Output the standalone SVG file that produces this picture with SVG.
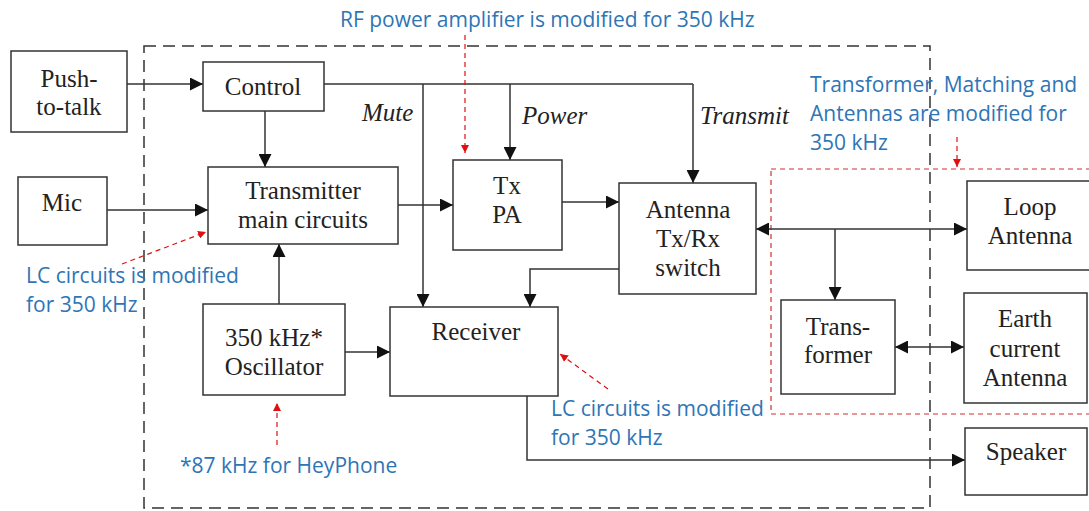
<svg xmlns="http://www.w3.org/2000/svg" width="1089" height="511" viewBox="0 0 1089 511">
<defs>
<marker id="ah" viewBox="0 0 10 10" refX="10" refY="5" markerWidth="13" markerHeight="13" markerUnits="userSpaceOnUse" orient="auto-start-reverse"><path d="M0,0 L10,5 L0,10 Z" fill="#111"/></marker>
<marker id="rh" viewBox="0 0 10 10" refX="10" refY="5" markerWidth="8" markerHeight="8" markerUnits="userSpaceOnUse" orient="auto"><path d="M0,0 L10,5 L0,10 Z" fill="#e01010"/></marker>
<style>
.box{fill:#fff;stroke:#333;stroke-width:1.5}
.t{font-family:"Liberation Serif",serif;font-size:25px;fill:#222;text-anchor:middle}
.it{font-family:"Liberation Serif",serif;font-size:25px;fill:#222;font-style:italic}
.ln{fill:none;stroke:#333;stroke-width:1.5}
.a{marker-end:url(#ah)}
.note{font-family:"Open Sans","Liberation Sans",sans-serif;font-size:21px;fill:#2e75b6}
.rd{fill:none;stroke:#e01010;stroke-width:1.2;stroke-dasharray:5 4;marker-end:url(#rh)}
</style>
</defs>
<rect width="1089" height="511" fill="#fff"/>
<rect x="144" y="46" width="786" height="462" fill="none" stroke="#333" stroke-width="1.5" stroke-dasharray="12 7"/>
<rect x="771" y="169" width="330" height="245" fill="none" stroke="#d03030" stroke-width="1.2" stroke-dasharray="5 4"/>

<g id="connectors">
<path class="ln a" d="M127,84 H203"/>
<path class="ln a" d="M265,111 V167"/>
<path class="ln a" d="M107,210 H208"/>
<path class="ln a" d="M398,205 H453"/>
<path class="ln" d="M324,84 H693"/>
<path class="ln a" d="M423,84 V307"/>
<path class="ln a" d="M510,84 V160"/>
<path class="ln a" d="M693,84 V183"/>
<path class="ln a" d="M562,202 H619"/>
<path class="ln a" d="M619,269 H530 V307"/>
<path class="ln a" d="M279,304 V244"/>
<path class="ln a" d="M345,352 H390"/>
<path class="ln a" d="M527,396 V460 H965"/>
<path class="ln" d="M756,229 H967" marker-start="url(#ah)" marker-end="url(#ah)"/>
<path class="ln a" d="M835,229 V300"/>
<path class="ln" d="M895,347 H964" marker-start="url(#ah)" marker-end="url(#ah)"/>
</g>

<g id="push"><rect class="box" x="11" y="51" width="116" height="81"/><text class="t" x="69" y="87">Push-</text><text class="t" x="69" y="115">to-talk</text></g>
<g id="control"><rect class="box" x="203" y="62" width="121" height="49"/><text class="t" x="263" y="95">Control</text></g>
<g id="mic"><rect class="box" x="18" y="177" width="89" height="68"/><text class="t" x="62" y="211">Mic</text></g>
<g id="transmitter"><rect class="box" x="208" y="167" width="190" height="77"/><text class="t" x="303" y="199">Transmitter</text><text class="t" x="303" y="228">main circuits</text></g>
<g id="txpa"><rect class="box" x="453" y="160" width="109" height="90"/><text class="t" x="507" y="194">Tx</text><text class="t" x="507" y="223">PA</text></g>
<g id="antsw"><rect class="box" x="619" y="183" width="137" height="111"/><text class="t" x="688" y="218">Antenna</text><text class="t" x="688" y="247">Tx/Rx</text><text class="t" x="688" y="276">switch</text></g>
<g id="osc"><rect class="box" x="203" y="304" width="142" height="91"/><text class="t" x="274" y="346">350 kHz*</text><text class="t" x="274" y="375">Oscillator</text></g>
<g id="receiver"><rect class="box" x="390" y="307" width="168" height="89"/><text class="t" x="476" y="340">Receiver</text></g>
<g id="loop"><rect class="box" x="967" y="181" width="130" height="89"/><text class="t" x="1030" y="215">Loop</text><text class="t" x="1030" y="244">Antenna</text></g>
<g id="transformer"><rect class="box" x="781" y="300" width="114" height="94"/><text class="t" x="838" y="335">Trans-</text><text class="t" x="838" y="363">former</text></g>
<g id="earth"><rect class="box" x="964" y="293" width="123" height="110"/><text class="t" x="1025" y="327">Earth</text><text class="t" x="1025" y="357">current</text><text class="t" x="1025" y="386">Antenna</text></g>
<g id="speaker"><rect class="box" x="965" y="428" width="122" height="67"/><text class="t" x="1026" y="460">Speaker</text></g>

<g id="labels">
<text class="it" x="362" y="121">Mute</text>
<text class="it" x="522" y="124">Power</text>
<text class="it" x="700" y="124">Transmit</text>
</g>

<g id="notes">
<text class="note" x="340" y="27">RF power amplifier is modified for 350 kHz</text>
<path class="rd" d="M465,35 V153"/>
<text class="note" x="810" y="92">Transformer, Matching and</text>
<text class="note" x="810" y="121">Antennas are modified for</text>
<text class="note" x="810" y="150">350 kHz</text>
<path class="rd" d="M957,137 V167"/>
<text class="note" x="26" y="283">LC circuits is modified</text>
<text class="note" x="26" y="312">for 350 kHz</text>
<path class="rd" d="M122,264 L206,232"/>
<text class="note" x="551" y="416">LC circuits is modified</text>
<text class="note" x="551" y="445">for 350 kHz</text>
<path class="rd" d="M608,389 L560,354"/>
<text class="note" x="180" y="473">*87 kHz for HeyPhone</text>
<path class="rd" d="M277,445 V403"/>
</g>
</svg>
